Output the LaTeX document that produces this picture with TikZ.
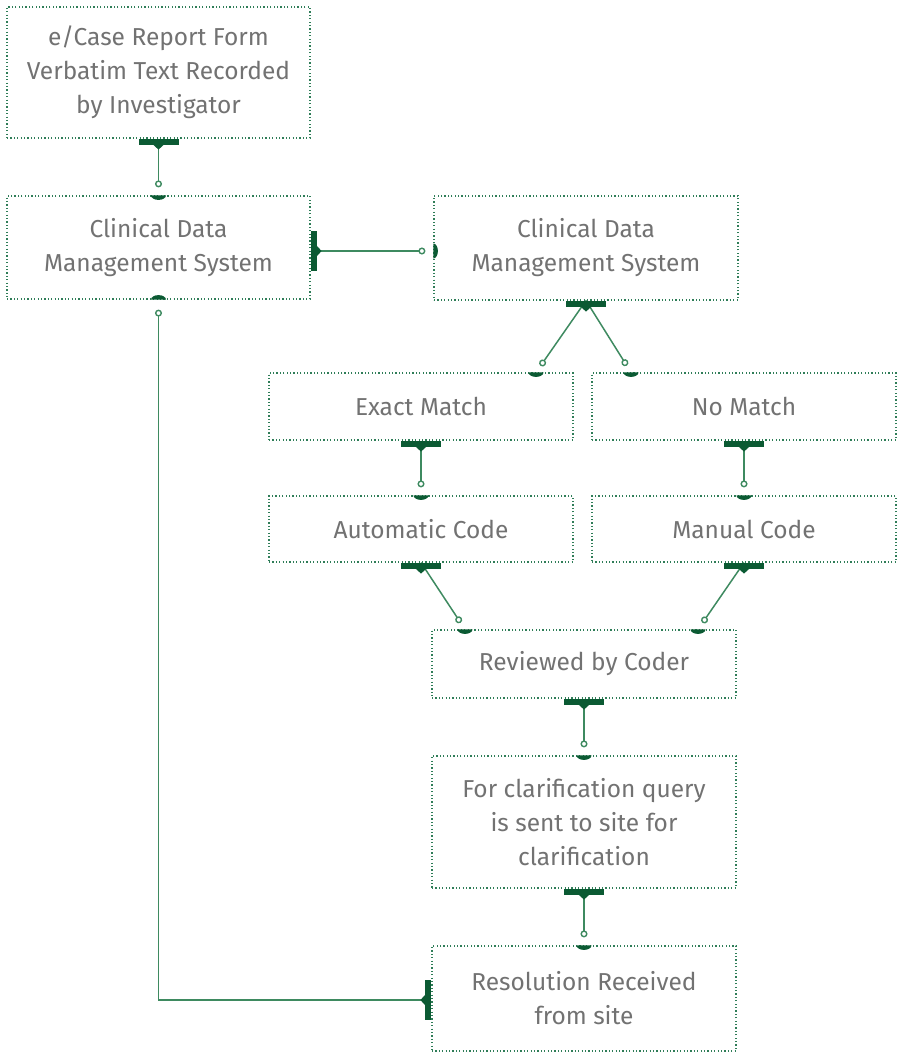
\documentclass[tikz,border=0pt]{standalone}
\usepackage{fontspec}
\setmainfont{Fira Sans}
\usetikzlibrary{arrows.meta,calc}
\definecolor{barc}{HTML}{0B5A33}
\definecolor{linec}{HTML}{3E8A60}
\definecolor{boxc}{HTML}{2F7D58}
\definecolor{txtc}{HTML}{727272}
\newcommand\srcS[1]{\fill[barc] ($(#1)+(-20,0)$) rectangle ($(#1)+(20,-6)$);
  \fill[barc] ($(#1)+(-6,-5.5)$) -- ($(#1)+(6,-5.5)$) -- ($(#1)+(0,-11)$) -- cycle;}
\newcommand\srcE[1]{\fill[barc] ($(#1)+(0,-20)$) rectangle ($(#1)+(6,20)$);
  \fill[barc] ($(#1)+(5.5,-6)$) -- ($(#1)+(5.5,6)$) -- ($(#1)+(11,0)$) -- cycle;}
\newcommand\srcW[1]{\fill[barc] ($(#1)+(0,-20)$) rectangle ($(#1)+(-6,20)$);
  \fill[barc] ($(#1)+(-5.5,-6)$) -- ($(#1)+(-5.5,6)$) -- ($(#1)+(-11,0)$) -- cycle;}
\newcommand\capN[1]{\fill[barc] ($(#1)+(-7.5,0)$) arc[start angle=180,end angle=360,x radius=7.5,y radius=4.5] -- cycle;}
\newcommand\capS[1]{\fill[barc] ($(#1)+(-7.5,0)$) arc[start angle=180,end angle=0,x radius=7.5,y radius=4.5] -- cycle;}
\newcommand\capW[1]{\fill[barc] ($(#1)+(0,7.5)$) arc[start angle=90,end angle=-90,x radius=4.5,y radius=7.5] -- cycle;}
\tikzset{
  box/.style={draw=boxc, line width=1.2pt, dash pattern=on 1.2pt off 2.2pt,
    align=center, text=txtc, inner sep=0pt, font=\fontsize{24.5}{34}\selectfont},
  conn/.style={draw=linec, line width=1.5pt, shorten >=8pt,
    -{Circle[open,length=7pt,width=7pt,line width=1.4pt]}}
}
\begin{document}
\begin{tikzpicture}[x=1pt,y=1pt]
\useasboundingbox (0,0) rectangle (901,-1052);
\node[box, minimum width=303pt, minimum height=131pt] (b1) at (158.5,-72.5) {e/Case Report Form\\Verbatim Text Recorded\\by Investigator};
\node[box, minimum width=303pt, minimum height=103pt] (b2) at (158.5,-247.5) {Clinical Data\\Management System};
\node[box, minimum width=304pt, minimum height=104pt] (b3) at (586,-248) {Clinical Data\\Management System};
\node[box, minimum width=304pt, minimum height=67pt] (exact) at (421,-406.5) {Exact Match};
\node[box, minimum width=304pt, minimum height=67pt] (nomatch) at (744,-406.5) {No Match};
\node[box, minimum width=304pt, minimum height=66pt] (auto) at (421,-529) {Automatic Code};
\node[box, minimum width=304pt, minimum height=66pt] (manual) at (744,-529) {Manual Code};
\node[box, minimum width=304pt, minimum height=68pt] (rev) at (584,-664) {Reviewed by Coder};
\node[box, minimum width=304pt, minimum height=132pt] (clar) at (584,-822) {For clarification query\\is sent to site for\\clarification};
\node[box, minimum width=304pt, minimum height=105pt] (res) at (584,-998.5) {Resolution Received\\from site};

\coordinate (c1s) at (b1.south);
\coordinate (c1t) at (b2.north);
\coordinate (c2s) at ($(b2.east)+(0,-3.5)$);
\coordinate (c2t) at (b3.west |- c2s);
\coordinate (c3s) at (b3.south);
\coordinate (c3a) at ($(exact.north)+(115,0)$);
\coordinate (c3b) at ($(nomatch.north)+(-113,0)$);
\coordinate (c4s) at (exact.south);
\coordinate (c4t) at (auto.north);
\coordinate (c5s) at (nomatch.south);
\coordinate (c5t) at (manual.north);
\coordinate (c6s) at (auto.south);
\coordinate (c6t) at ($(rev.north)+(-119,0)$);
\coordinate (c7s) at (manual.south);
\coordinate (c7t) at ($(rev.north)+(114,0)$);
\coordinate (c8s) at (rev.south);
\coordinate (c8t) at (clar.north);
\coordinate (c9s) at (clar.south);
\coordinate (c9t) at (res.north);
\coordinate (c10s) at ($(res.west)+(0,-1.5)$);
\coordinate (c10t) at (b2.south);

\draw[conn] (c1s) -- (c1t);
\draw[conn] (c2s) -- (c2t);
\draw[conn] (c3s) -- (c3a);
\draw[conn] (c3s) -- (c3b);
\draw[conn] (c4s) -- (c4t);
\draw[conn] (c5s) -- (c5t);
\draw[conn] (c6s) -- (c6t);
\draw[conn] (c7s) -- (c7t);
\draw[conn] (c8s) -- (c8t);
\draw[conn] (c9s) -- (c9t);
\draw[conn, shorten >=10pt] (c10s) -| (c10t);

\srcS{c1s} \capN{c1t}
\srcE{c2s} \capW{c2t}
\srcS{c3s} \capN{c3a} \capN{c3b}
\srcS{c4s} \capN{c4t}
\srcS{c5s} \capN{c5t}
\srcS{c6s} \capN{c6t}
\srcS{c7s} \capN{c7t}
\srcS{c8s} \capN{c8t}
\srcS{c9s} \capN{c9t}
\srcW{c10s} \capS{c10t}
\end{tikzpicture}
\end{document}
